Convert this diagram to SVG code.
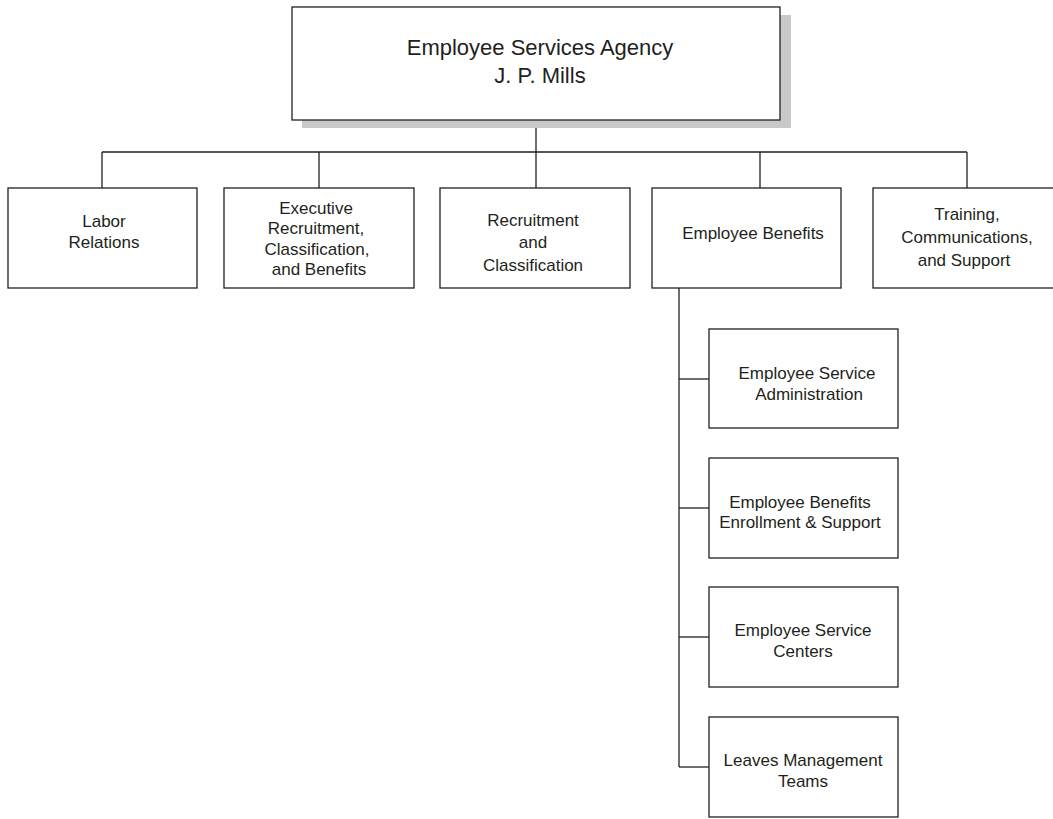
<svg xmlns="http://www.w3.org/2000/svg" width="1053" height="819" viewBox="0 0 1053 819">
  <style>
    .box { fill: #ffffff; stroke: #231f20; stroke-width: 1.3; }
    .shadow { fill: #c8c9ca; stroke: none; }
    .wire { fill: none; stroke: #231f20; stroke-width: 1.3; }
    .label { font-family: "Liberation Sans", Arial, sans-serif; font-size: 17px; fill: #231f20; text-anchor: middle; }
    .title { font-family: "Liberation Sans", Arial, sans-serif; font-size: 22px; fill: #231f20; text-anchor: middle; }
  </style>
  <rect width="1053" height="819" fill="#ffffff"/>

  <!-- connectors -->
  <g id="connectors" class="wire">
    <path d="M536 120 V152"/>
    <path d="M102 152 H967"/>
    <path d="M102 152 V188"/>
    <path d="M319 152 V188"/>
    <path d="M536 152 V188"/>
    <path d="M760 152 V188"/>
    <path d="M967 152 V188"/>
    <path d="M679 288 V767"/>
    <path d="M679 379 H709"/>
    <path d="M679 508 H709"/>
    <path d="M679 637 H709"/>
    <path d="M679 767 H709"/>
  </g>

  <!-- head of agency -->
  <g id="agency">
    <rect class="shadow" x="302" y="15" width="489" height="113"/>
    <rect class="box" x="292" y="7" width="488" height="113"/>
    <text class="title" x="540" y="55">Employee Services Agency</text>
    <text class="title" x="540" y="83">J. P. Mills</text>
  </g>

  <!-- divisions -->
  <g id="labor-relations">
    <rect class="box" x="8" y="188" width="189" height="100"/>
    <text class="label" x="104" y="227">Labor</text>
    <text class="label" x="104" y="248">Relations</text>
  </g>

  <g id="executive-recruitment">
    <rect class="box" x="224" y="188" width="190" height="100"/>
    <text class="label" x="316" y="214">Executive</text>
    <text class="label" x="316" y="234">Recruitment,</text>
    <text class="label" x="317" y="255">Classification,</text>
    <text class="label" x="319" y="275">and Benefits</text>
  </g>

  <g id="recruitment-classification">
    <rect class="box" x="440" y="188" width="190" height="100"/>
    <text class="label" x="533" y="226">Recruitment</text>
    <text class="label" x="533" y="248">and</text>
    <text class="label" x="533" y="271">Classification</text>
  </g>

  <g id="employee-benefits">
    <rect class="box" x="652" y="188" width="189" height="100"/>
    <text class="label" x="753" y="239">Employee Benefits</text>
  </g>

  <g id="training-communications">
    <rect class="box" x="873" y="188" width="190" height="100"/>
    <text class="label" x="967" y="220">Training,</text>
    <text class="label" x="967" y="243">Communications,</text>
    <text class="label" x="964" y="266">and Support</text>
  </g>

  <!-- benefits units -->
  <g id="service-administration">
    <rect class="box" x="709" y="329" width="189" height="99"/>
    <text class="label" x="807" y="379">Employee Service</text>
    <text class="label" x="809" y="400">Administration</text>
  </g>

  <g id="benefits-enrollment">
    <rect class="box" x="709" y="458" width="189" height="100"/>
    <text class="label" x="800" y="508">Employee Benefits</text>
    <text class="label" x="800" y="528">Enrollment &amp; Support</text>
  </g>

  <g id="service-centers">
    <rect class="box" x="709" y="587" width="189" height="100"/>
    <text class="label" x="803" y="636">Employee Service</text>
    <text class="label" x="803" y="657">Centers</text>
  </g>

  <g id="leaves-management">
    <rect class="box" x="709" y="717" width="189" height="100"/>
    <text class="label" x="803" y="766">Leaves Management</text>
    <text class="label" x="803" y="787">Teams</text>
  </g>
</svg>
